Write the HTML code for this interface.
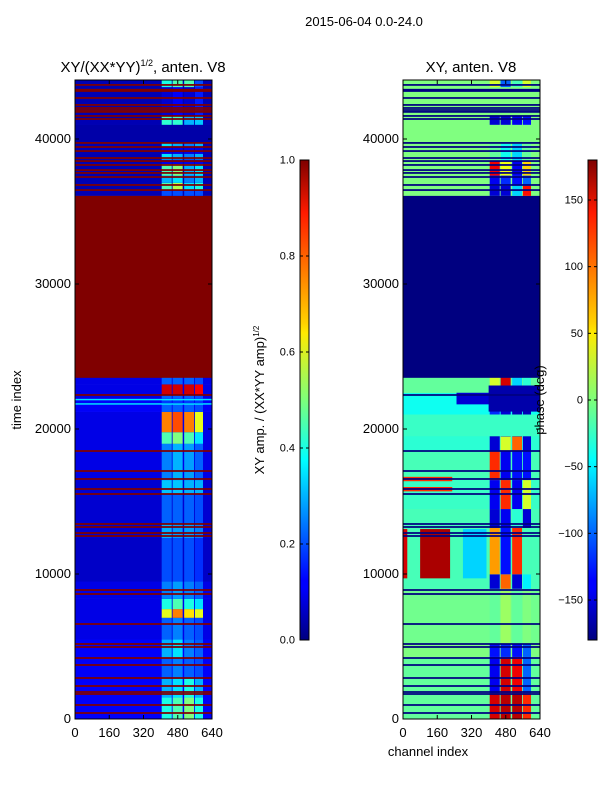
<!DOCTYPE html>
<html><head><meta charset="utf-8"><style>
body{margin:0;background:#fff;width:600px;height:800px;overflow:hidden;font-family:"Liberation Sans",sans-serif}
svg text{font-family:"Liberation Sans",sans-serif;fill:#000}
</style></head><body>
<svg id="fig" width="600" height="800" viewBox="0 0 600 800" xmlns="http://www.w3.org/2000/svg">
<defs>
<linearGradient id="jet" x1="0" y1="1" x2="0" y2="0">
<stop offset="0" stop-color="#00007f"/><stop offset="0.11" stop-color="#0000ff"/><stop offset="0.125" stop-color="#0000ff"/>
<stop offset="0.34" stop-color="#00dcff"/><stop offset="0.375" stop-color="#00ffff"/><stop offset="0.5" stop-color="#7dff7a"/>
<stop offset="0.64" stop-color="#ffea00"/><stop offset="0.66" stop-color="#ffd200"/><stop offset="0.89" stop-color="#ff1a00"/><stop offset="1" stop-color="#7f0000"/>
</linearGradient>
</defs>
<text x="364" y="26" font-size="13" text-anchor="middle">2015-06-04 0.0-24.0</text>
<g id="left"></g>
<g id="right"></g>
<g id="cb"></g>
</svg>
<script>
// ---- data ----
const chanBlocks=[[405,452],[456,503],[510,556],[560,598]];
const ampBands=[
[0,1500,0.12,0.4,0.45,0.5,0.4],[1500,2800,0.12,0.3,0.35,0.4,0.3],[2800,4200,0.12,0.22,0.25,0.22,0.2],
[4200,5500,0.12,0.3,0.35,0.25,0.22],[5500,7000,0.1,0.22,0.25,0.22,0.2],[7000,7600,0.1,0.6,0.75,0.65,0.6],
[7600,8300,0.1,0.4,0.45,0.4,0.35],[8300,9500,0.1,0.25,0.28,0.25,0.22],[9500,12500,0.07,0.2,0.2,0.2,0.17],
[12500,13500,0.08,0.3,0.28,0.28,0.25],[13500,15500,0.08,0.22,0.22,0.22,0.2],[15500,16500,0.08,0.32,0.32,0.3,0.3],
[16500,19000,0.1,0.25,0.3,0.28,0.22],[19000,19800,0.1,0.45,0.5,0.45,0.35],[19800,21200,0.1,0.75,0.8,0.75,0.6],
[21200,21700,0.12,0.22,0.22,0.22,0.2],[21700,21800,0.35,0.35,0.35,0.35,0.35],[21800,22000,0.12,0.18,0.18,0.18,0.18],
[22000,22100,0.35,0.35,0.35,0.35,0.35],[22100,22400,0.1,0.22,0.22,0.22,0.2],[22400,23100,0.1,0.92,0.92,0.92,0.88],
[23100,23600,0.1,0.22,0.22,0.22,0.2],[23600,36100,1,1,1,1,1],
[36100,36500,0.05,0.2,0.2,0.2,0.2],[36500,37000,0.05,0.45,0.55,0.35,0.4],[37000,37500,0.05,0.3,0.35,0.25,0.3],
[37500,38300,0.05,0.45,0.5,0.3,0.35],[38300,38600,0.05,0.1,0.1,0.1,0.1],[38600,39000,0.05,0.35,0.3,0.25,0.3],
[39000,39500,0.05,0.1,0.1,0.1,0.1],[39500,39800,0.05,0.35,0.3,0.25,0.3],
[39800,41000,0.04,0.04,0.04,0.04,0.04],[41000,41600,0.05,0.42,0.42,0.3,0.32],[41600,43600,0.05,0.08,0.12,0.08,0.15],
[43600,44070,0.05,0.4,0.45,0.45,0.2]];
const maskStripes=[414,966,1724,1862,2276,2828,3724,4207,4966,5173,6552,8621,8897,12621,12828,13242,13449,15518,15863,16553,17104,18483,22346,23590,
36480,36830,37380,37660,37860,38210,38480,38690,39170,39450,39730,41380,41590,41870,42000,42140,42350,42830,43310,43400,43730];
const phaseBands=[
[0,1800,-10,150,160,160,120],[1800,4300,-10,-140,150,140,-100],[4300,5200,0,-130,-120,-130,-100],
[5200,9000,-5,-10,10,-10,0],[9000,10000,-20,-150,100,-150,-50],[10000,13200,-20,80,-130,120,-20],
[13200,14500,-20,-150,-140,-30,-150],[14500,16500,-25,-140,120,-140,30],[16500,18500,-20,120,-140,-130,-130],
[18500,19500,-30,-150,30,100,-150],[19500,21000,-30,-170,-160,-170,-160],[21000,22500,-40,-120,-150,-160,-160],
[22500,23600,-10,30,150,-60,-30],[23600,36100,-180,-180,-180,-180,-180],
[36100,36800,0,-150,-150,-60,130],[36800,37500,0,-140,-120,-130,-100],[37500,38500,0,140,40,-140,60],[38500,39700,0,-10,-40,-60,-10],
[39700,41000,0,0,0,0,0],[41000,41600,0,-150,-150,-140,-130],[41600,43600,0,0,0,0,0],[43600,44070,0,30,-100,-20,30]];
const phasePatches=[[80,220,9700,13100,165],[0,20,9700,13100,150],[0,230,16400,16700,120],[0,230,15700,16000,120],
[280,390,9700,13100,-60],[0,640,19500,21000,-25],[250,640,21700,22500,-150],[400,640,21200,23000,-165]];
const ampTicks=[0,0.2,0.4,0.6,0.8,1.0];
const phaseTicks=[-150,-100,-50,0,50,100,150];
const yTicks=[0,10000,20000,30000,40000];
const xTicks=[0,160,320,480,640];
// ---- helpers ----
const NS='http://www.w3.org/2000/svg';
function jet(v){v=Math.max(0,Math.min(1,v));
 const f=(x)=>Math.max(0,Math.min(1,x));
 const r=f(1.5-Math.abs(4*v-3)),g=f(1.5-Math.abs(4*v-2)),b=f(1.5-Math.abs(4*v-1));
 return `rgb(${Math.round(r*255)},${Math.round(g*255)},${Math.round(b*255)})`;}
function mk(tag,attrs,parent){const e=document.createElementNS(NS,tag);for(const k in attrs)e.setAttribute(k,attrs[k]);parent.appendChild(e);return e;}
const TMAX=44070;
function panel(x0,norm,bands,patches,g,maskVal,name){
 const W=137,top=80,bot=719;
 const xs=c=>x0+c/640*W, ys=t=>bot-t/TMAX*(bot-top);
 bands.forEach(b=>{
  let r=mk('rect',{x:xs(0),y:ys(b[1]),width:W,height:ys(b[0])-ys(b[1])+0.3,fill:jet(norm(b[2]))},g);
  
  
  chanBlocks.forEach((cb,i)=>{
   let q=mk('rect',{x:xs(cb[0]),y:ys(b[1]),width:xs(cb[1])-xs(cb[0]),height:ys(b[0])-ys(b[1])+0.3,fill:jet(norm(b[3+i]))},g);
   
   
  });
 });
 patches.forEach(p=>{
  let r=mk('rect',{x:xs(p[0]),y:ys(p[3]),width:xs(p[1])-xs(p[0]),height:ys(p[2])-ys(p[3]),fill:jet(norm(p[4]))},g);
  
  
 });
 maskStripes.forEach(t=>{
  let r=mk('rect',{x:xs(0),y:ys(t+60),width:W,height:ys(t-60)-ys(t+60),fill:jet(maskVal)},g);
  
  
 });
 mk('rect',{x:x0,y:top,width:W,height:bot-top,fill:'none',stroke:'#000','stroke-width':1},g);
 yTicks.forEach(t=>{const y=ys(t);
  mk('line',{x1:x0,x2:x0+4,y1:y,y2:y,stroke:'#000'},g);mk('line',{x1:x0+W-4,x2:x0+W,y1:y,y2:y,stroke:'#000'},g);
  const tx=mk('text',{x:x0-4,y:y+4,'font-size':13,'text-anchor':'end'},g);tx.textContent=t;
  
  });
 xTicks.forEach(c=>{const x=xs(c);
  mk('line',{x1:x,x2:x,y1:bot,y2:bot-4,stroke:'#000'},g);mk('line',{x1:x,x2:x,y1:top,y2:top+4,stroke:'#000'},g);
  const tx=mk('text',{x:x,y:bot+18,'font-size':13,'text-anchor':'middle'},g);tx.textContent=c;
  
  });
}
const L=document.getElementById('left'),R=document.getElementById('right'),C=document.getElementById('cb');
panel(75,v=>v,ampBands,[],L,1,'amp');
panel(403,v=>(v+180)/360,phaseBands,phasePatches,R,0,'phase');
// titles
let t1=mk('text',{x:143,y:72,'font-size':15,'text-anchor':'middle'},L);
t1.innerHTML='XY/(XX*YY)<tspan font-size="9" dy="-6">1/2</tspan><tspan dy="6">, anten. V8</tspan>';


let t2=mk('text',{x:471,y:72,'font-size':15,'text-anchor':'middle'},R);t2.textContent='XY, anten. V8';


let yl=mk('text',{x:0,y:0,'font-size':13,'text-anchor':'middle',transform:'translate(21,400) rotate(-90)'},L);yl.textContent='time index';


let xl=mk('text',{x:428,y:756,'font-size':13,'text-anchor':'middle'},R);xl.textContent='channel index';


// colorbars
function cbar(x,lo,hi,ticks,fmt,label,lx){
 mk('rect',{x:x,y:160,width:9,height:480,fill:'url(#jet)',stroke:'#000','stroke-width':1},C);
 ticks.forEach(v=>{const y=640-(v-lo)/(hi-lo)*480;
  mk('line',{x1:x,x2:x+3,y1:y,y2:y,stroke:'#000'},C);mk('line',{x1:x+6,x2:x+9,y1:y,y2:y,stroke:'#000'},C);
  const tx=mk('text',{x:x-5,y:y+3.5,'font-size':11,'text-anchor':'end'},C);tx.textContent=fmt(v);
  
  });
 const tl=mk('text',{x:0,y:0,'font-size':13,'text-anchor':'middle',transform:`translate(${lx},400) rotate(-90)`},C);tl.innerHTML=label;
 
 
}
cbar(300,0,1,ampTicks,v=>v.toFixed(1),'XY amp. / (XX*YY amp)<tspan font-size="8" dy="-5">1/2</tspan>',264);
cbar(588,-180,180,phaseTicks,v=>v<0?'\u2212'+(-v):''+v,'phase (deg)',544);
</script>
</body></html>
